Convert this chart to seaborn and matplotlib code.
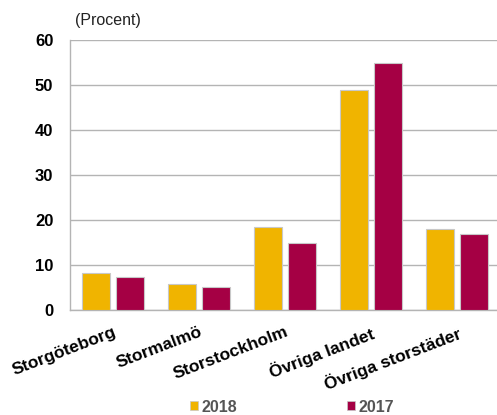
import matplotlib
matplotlib.use("Agg")
import matplotlib.pyplot as plt
import seaborn as sns
import pandas as pd
from matplotlib.patches import Patch

categories = ["Storgöteborg", "Stormalmö", "Storstockholm", "Övriga landet", "Övriga storstäder"]
values_2018 = [8.2, 5.7, 18.5, 48.9, 18.0]
values_2017 = [7.4, 5.1, 15.0, 54.9, 17.0]
years = ["2018", "2017"]
yticks = [0, 10, 20, 30, 40, 50, 60]

colors = {"2018": "#F0B400", "2017": "#A50044"}

df = pd.DataFrame({
    "Region": categories * 2,
    "Andel": values_2018 + values_2017,
    "År": ["2018"] * len(categories) + ["2017"] * len(categories),
})

sns.set_theme(style="white")
plt.rcParams["font.family"] = ["Liberation Sans", "DejaVu Sans"]

fig = plt.figure(figsize=(4.97, 4.15), dpi=100)
ax = fig.add_axes([70 / 497, 105 / 415, 430 / 497, 270 / 415])

sns.barplot(data=df, x="Region", y="Andel", hue="År", hue_order=years,
            order=categories, palette=colors, saturation=1, gap=0.18, width=0.8,
            edgecolor="#c8c8c8", linewidth=0.8, legend=False, ax=ax, zorder=3)

ax.set_xlim(-0.5, len(categories) - 0.5)
ax.set_ylim(0, 60)
ax.set_yticks(yticks)
ax.set_yticklabels([str(t) for t in yticks], fontsize=12, fontweight="bold", color="black")
ax.yaxis.grid(True, color="#b4b4b4", linewidth=1.0, zorder=0)
ax.set_axisbelow(True)
ax.set_xlabel("")
ax.set_ylabel("")

ax.set_xticks(range(len(categories)))
ax.set_xticklabels(categories, rotation=21, ha="right", rotation_mode="anchor",
                   fontsize=12.5, fontweight="bold", color="black")
ax.set_xticks([i - 0.5 for i in range(len(categories) + 1)], minor=True)
ax.tick_params(axis="x", which="major", length=0, pad=10.5)
ax.tick_params(axis="x", which="minor", length=4, color="#b4b4b4", width=1, direction="out")
ax.tick_params(axis="y", length=0, pad=12)

for side in ["top", "right"]:
    ax.spines[side].set_visible(False)
for side in ["left", "bottom"]:
    ax.spines[side].set_color("#b4b4b4")
    ax.spines[side].set_linewidth(1.0)

fig.text(75 / 497, 1 - 21 / 415, "(Procent)", fontsize=11.5, color="#222222",
         va="center", ha="left")

handles = [Patch(facecolor=colors[y], edgecolor="#c8c8c8", linewidth=0.5) for y in years]
fig.legend(handles, years, loc="center", bbox_to_anchor=(292 / 497, 1 - 407 / 415),
           ncol=2, frameon=False, handlelength=0.5, handleheight=0.5, handletextpad=0.2,
           columnspacing=6.9, prop={"weight": "bold", "size": 11.5}, labelcolor="#555555")

fig.savefig("out.png", dpi=100)
